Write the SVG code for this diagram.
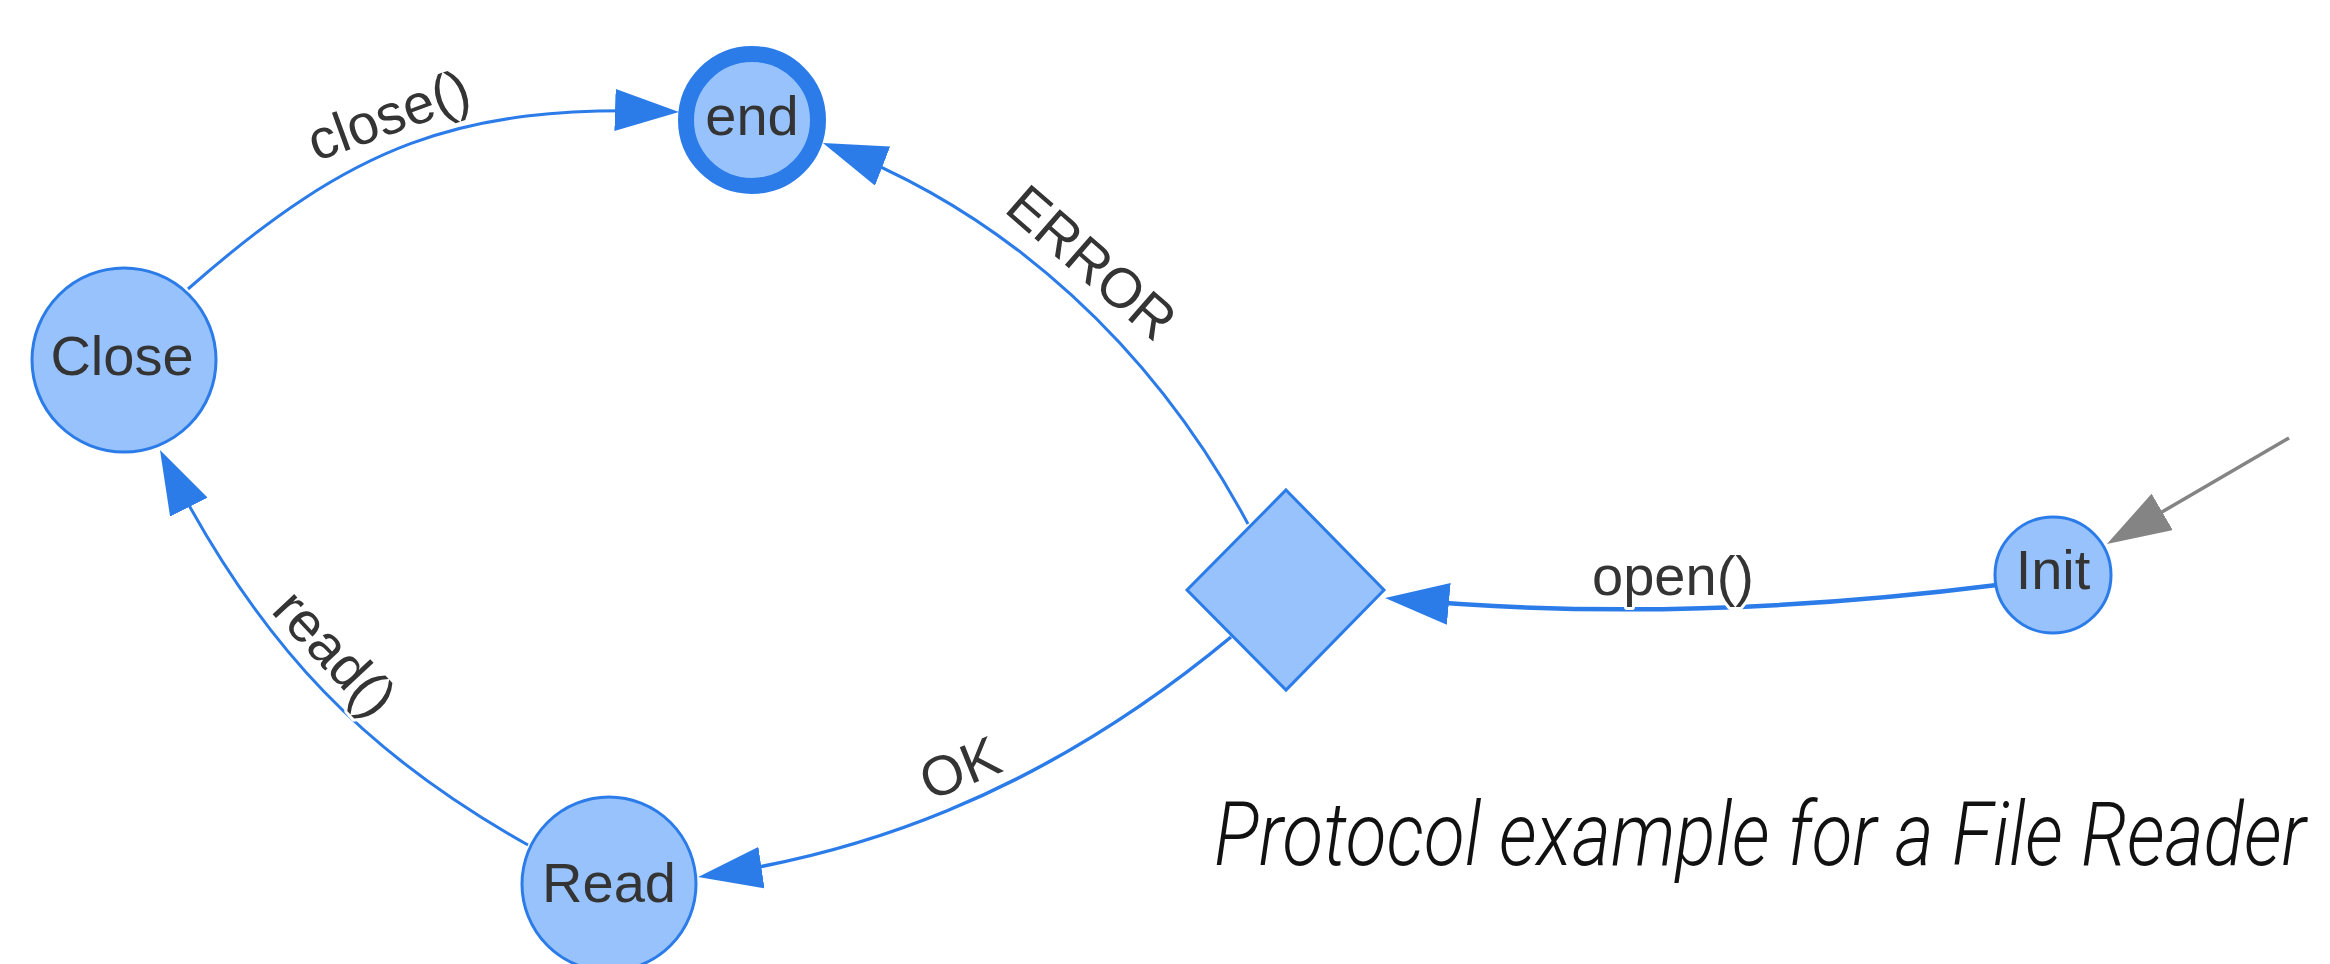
<svg xmlns="http://www.w3.org/2000/svg" width="2330" height="964" viewBox="0 0 2330 964">
  <style>
    .node{fill:#97C2FC;stroke:#2B7CE9;stroke-width:3}
    .final{stroke-width:16}
    .nlabel{font-family:"Liberation Sans",Arial,sans-serif;font-size:56px;fill:#343434;text-anchor:middle}
    .edge{fill:none;stroke:#2B7CE9;stroke-width:3}
    .start{fill:none;stroke:#848484;stroke-width:3.5}
    .elabel{font-family:"Liberation Sans",Arial,sans-serif;font-size:56px;fill:#343434;text-anchor:middle;stroke:#ffffff;stroke-width:6;stroke-linejoin:round;paint-order:stroke}
    .title{font-family:Roboto,"Open Sans",sans-serif;font-weight:300;font-style:italic;font-size:88px;fill:#111111}
  </style>
  <defs>
    <marker id="arrow-blue" markerUnits="userSpaceOnUse" viewBox="0 0 64 42" markerWidth="64" markerHeight="42" refX="50" refY="21" orient="auto">
      <path d="M0,0 L64,21 L0,42 Z" fill="#2B7CE9"/>
    </marker>
    <marker id="arrow-gray" markerUnits="userSpaceOnUse" viewBox="0 0 64 42" markerWidth="64" markerHeight="42" refX="50" refY="21" orient="auto">
      <path d="M0,0 L64,21 L0,42 Z" fill="#848484"/>
    </marker>
  </defs>

  <g id="edges">
    <!-- initial transition into Init -->
    <path class="start" d="M2289,438 L2119,537" marker-end="url(#arrow-gray)"/>
    <!-- Init -> choice : open() -->
    <path class="edge" style="stroke-width:4.5" d="M1997,585 Q1680,625 1399,599.3" marker-end="url(#arrow-blue)"/>
    <!-- choice -> end : ERROR -->
    <path class="edge" d="M1248,524 C1154,348 1009,215 836,148" marker-end="url(#arrow-blue)"/>
    <!-- choice -> Read : OK -->
    <path class="edge" style="stroke-width:3.5" d="M1231,637 C1031,803 847,855 712,875" marker-end="url(#arrow-blue)"/>
    <!-- Read -> Close : read() -->
    <path class="edge" d="M528,845 C371,757 262,652 166.3,462.5" marker-end="url(#arrow-blue)"/>
    <!-- Close -> end : close() -->
    <path class="edge" d="M188,289 C353,144 459,105 665,111.5" marker-end="url(#arrow-blue)"/>

    <text class="elabel" x="1673" y="595">open()</text>
    <text class="elabel" transform="translate(1079,277) rotate(41)">ERROR</text>
    <text class="elabel" transform="translate(967,786) rotate(-22)">OK</text>
    <text class="elabel" transform="translate(321,666) rotate(47)">read()</text>
    <text class="elabel" transform="translate(395,133) rotate(-20)">close()</text>
  </g>

  <g id="node-init">
    <circle class="node" cx="2053" cy="575" r="58"/>
    <text class="nlabel" x="2053" y="589">Init</text>
  </g>
  <g id="node-choice">
    <polygon class="node" points="1286,490 1384,590 1286,690 1187,590"/>
  </g>
  <g id="node-read">
    <circle class="node" cx="609" cy="884" r="87"/>
    <text class="nlabel" x="609" y="902">Read</text>
  </g>
  <g id="node-close">
    <circle class="node" cx="124" cy="360" r="92"/>
    <text class="nlabel" x="122" y="375">Close</text>
  </g>
  <g id="node-end">
    <circle class="node final" cx="752" cy="120" r="66"/>
    <text class="nlabel" x="752" y="135">end</text>
  </g>

  <!-- caption, horizontally condensed -->
  <text class="title" transform="translate(1214,865) scale(0.78,1)" x="0" y="0" textLength="1400" lengthAdjust="spacingAndGlyphs">Protocol example for a File Reader</text>
</svg>
